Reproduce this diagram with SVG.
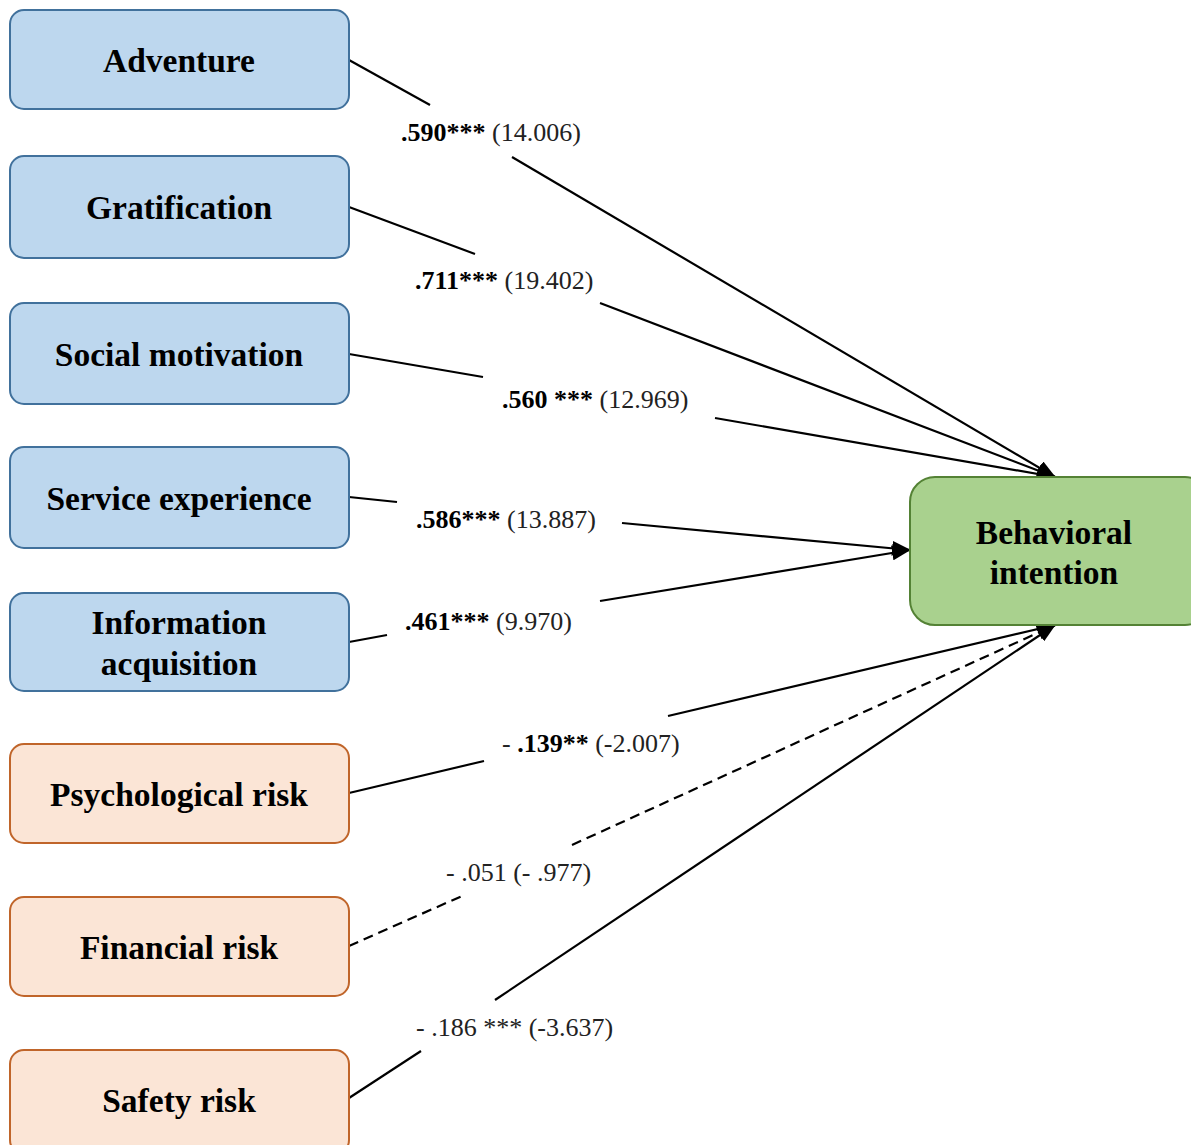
<svg xmlns="http://www.w3.org/2000/svg" width="1191" height="1145" viewBox="0 0 1191 1145">
<style>
.blue{fill:#BDD7EE;stroke:#41719C;stroke-width:2}
.orange{fill:#FBE5D6;stroke:#C0652A;stroke-width:2}
.green{fill:#A9D18E;stroke:#548235;stroke-width:2}
.nt{font-family:"Liberation Serif",serif;font-weight:bold;font-size:33.5px;fill:#000;text-anchor:middle}
.lb{font-family:"Liberation Serif",serif;font-size:26px;fill:#222}
.b{font-weight:bold;fill:#000}
.ln{stroke:#000;stroke-width:2.2;fill:none}
.dash{stroke-dasharray:10 6}
</style>
<defs>
<marker id="arr" markerUnits="userSpaceOnUse" markerWidth="19" markerHeight="15" refX="18" refY="7.5" orient="auto">
<path d="M0,0 L19,7.5 L0,15 Z" fill="#000"/>
</marker>
</defs>
<g id="connectors">
<line class="ln" x1="349" y1="60" x2="430" y2="105"/>
<line class="ln" x1="512" y1="157" x2="1055" y2="477" marker-end="url(#arr)"/>
<line class="ln" x1="349" y1="207" x2="475" y2="254"/>
<line class="ln" x1="600" y1="303" x2="1055" y2="477" marker-end="url(#arr)"/>
<line class="ln" x1="349" y1="354" x2="483" y2="377"/>
<line class="ln" x1="715" y1="418" x2="1055" y2="477" marker-end="url(#arr)"/>
<line class="ln" x1="349" y1="497" x2="397" y2="502"/>
<line class="ln" x1="622" y1="523" x2="910" y2="550" marker-end="url(#arr)"/>
<line class="ln" x1="349" y1="642" x2="387" y2="635"/>
<line class="ln" x1="600" y1="601" x2="910" y2="550" marker-end="url(#arr)"/>
<line class="ln" x1="349" y1="793" x2="484" y2="761"/>
<line class="ln" x1="668" y1="716" x2="1055" y2="625" marker-end="url(#arr)"/>
<line class="ln dash" x1="349" y1="946" x2="462" y2="896"/>
<line class="ln dash" x1="572" y1="845" x2="1055" y2="625" marker-end="url(#arr)"/>
<line class="ln" x1="349" y1="1098" x2="421" y2="1051"/>
<line class="ln" x1="495" y1="1000" x2="1055" y2="625" marker-end="url(#arr)"/>
</g>
<g id="labels">
<text class="lb" x="401" y="141"><tspan class="b">.590***</tspan> (14.006)</text>
<text class="lb" x="415" y="289"><tspan class="b">.711***</tspan> (19.402)</text>
<text class="lb" x="502" y="408"><tspan class="b">.560 ***</tspan> (12.969)</text>
<text class="lb" x="416" y="528"><tspan class="b">.586***</tspan> (13.887)</text>
<text class="lb" x="405" y="630"><tspan class="b">.461***</tspan> (9.970)</text>
<text class="lb" x="502" y="752">- <tspan class="b">.139**</tspan> (-2.007)</text>
<text class="lb" x="446" y="881">- .051 (- .977)</text>
<text class="lb" x="416" y="1036">- .186 *** (-3.637)</text>
</g>
<g id="n-adventure"><rect class="blue" x="10" y="10" width="339" height="99" rx="14"/><text class="nt" x="179" y="72">Adventure</text></g>
<g id="n-gratification"><rect class="blue" x="10" y="156" width="339" height="102" rx="14"/><text class="nt" x="179" y="219">Gratification</text></g>
<g id="n-social"><rect class="blue" x="10" y="303" width="339" height="101" rx="14"/><text class="nt" x="179" y="366">Social motivation</text></g>
<g id="n-service"><rect class="blue" x="10" y="447" width="339" height="101" rx="14"/><text class="nt" x="179" y="510">Service experience</text></g>
<g id="n-info"><rect class="blue" x="10" y="593" width="339" height="98" rx="14"/><text class="nt" x="179" y="634">Information</text><text class="nt" x="179" y="675">acquisition</text></g>
<g id="n-psych"><rect class="orange" x="10" y="744" width="339" height="99" rx="14"/><text class="nt" x="179" y="806">Psychological risk</text></g>
<g id="n-financial"><rect class="orange" x="10" y="897" width="339" height="99" rx="14"/><text class="nt" x="179" y="959">Financial risk</text></g>
<g id="n-safety"><rect class="orange" x="10" y="1050" width="339" height="104" rx="14"/><text class="nt" x="179" y="1112">Safety risk</text></g>
<g id="n-behavioral"><rect class="green" x="910" y="477" width="300" height="148" rx="25"/><text class="nt" x="1054" y="544">Behavioral</text><text class="nt" x="1054" y="584">intention</text></g>
</svg>
